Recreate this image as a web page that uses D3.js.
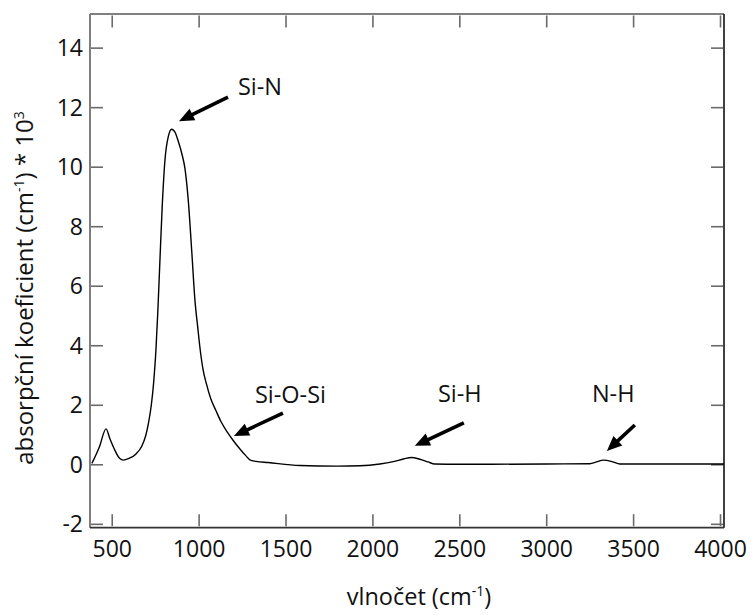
<!DOCTYPE html>
<html>
<head>
<meta charset="utf-8">
<script src="https://cdn.jsdelivr.net/npm/d3@7"></script>
<style>
  html, body { margin: 0; padding: 0; background: #fff; }
  svg text { font-family: "Open Sans", "Noto Sans", sans-serif; fill: #111; }
</style>
</head>
<body>
<svg id="chart" width="755" height="615"></svg>
<script>
// ---- data ----
const wavenumber = [386, 430, 467, 490, 520, 545, 567, 600, 640, 672, 695, 712, 728, 742, 754, 765, 777, 790, 806, 825, 845, 865, 883, 905, 921, 940, 960, 979, 995, 1008, 1025, 1045, 1070, 1100, 1130, 1165, 1199, 1240, 1270, 1295, 1330, 1400, 1583, 1800, 1928, 2043, 2120, 2180, 2225, 2273, 2320, 2359, 2500, 3000, 3251, 3290, 3328, 3380, 3424, 3600, 4023];
const absorbance = [0.03, 0.6, 1.19, 0.85, 0.45, 0.2, 0.14, 0.2, 0.35, 0.6, 0.95, 1.4, 2.0, 2.8, 3.8, 5.1, 6.8, 8.6, 10.2, 11.0, 11.26, 11.15, 10.85, 10.4, 9.95, 8.9, 7.2, 5.5, 4.6, 3.9, 3.2, 2.7, 2.2, 1.8, 1.42, 1.08, 0.8, 0.5, 0.3, 0.15, 0.1, 0.06, -0.04, -0.06, -0.05, 0.01, 0.09, 0.18, 0.23, 0.17, 0.08, 0.01, 0.0, 0.01, 0.02, 0.08, 0.14, 0.09, 0.01, 0.01, 0.01];

const xTicks = [500, 1000, 1500, 2000, 2500, 3000, 3500, 4000];
const yTicks = [-2, 0, 2, 4, 6, 8, 10, 12, 14];

const annLabels = ["Si-N", "Si-O-Si", "Si-H", "N-H"];
const annTextX = [1226, 1324, 2377, 3263];
const annTextY = [12.4, 2.07, 2.09, 2.09];
const arrowFromX = [1169, 1485, 2526, 3510];
const arrowFromY = [12.34, 1.72, 1.39, 1.32];
const arrowToX = [887, 1203, 2244, 3349];
const arrowToY = [11.53, 0.95, 0.62, 0.45];

const xTitle = "vlnočet (cm";
const yTitle = "absorpční koeficient (cm";

// ---- layout ----
const L = 90, R = 724, T = 14, B = 527.7;
const svg = d3.select("#chart");

const x = d3.scaleLinear().domain([375, 4023]).range([L, R]);
const y = d3.scaleLinear().domain([-2.13, 15.13]).range([B, T]);

const tickColor = "#6a6a6a";
const fontSize = 23;
const fmt = d => String(d);

// bottom axis (ticks inside)
const gx = svg.append("g").attr("transform", `translate(0,${B - 1.5})`)
  .call(d3.axisBottom(x).tickValues(xTicks).tickSizeInner(-12).tickSizeOuter(0).tickFormat(fmt));
gx.select(".domain").remove();
gx.selectAll(".tick line").attr("stroke", tickColor).attr("stroke-width", 1.6);
gx.selectAll(".tick text").attr("y", 30.5).attr("dy", 0).style("font-size", fontSize + "px").style("font-family", '"Open Sans", sans-serif').attr("fill", "#111");

// top axis (ticks only)
const gxt = svg.append("g").attr("transform", `translate(0,${T + 1.5})`)
  .call(d3.axisTop(x).tickValues(xTicks).tickSizeInner(-12).tickSizeOuter(0).tickFormat(""));
gxt.select(".domain").remove();
gxt.selectAll(".tick line").attr("stroke", tickColor).attr("stroke-width", 1.6);

// left axis
const gy = svg.append("g").attr("transform", `translate(${L + 1},0)`)
  .call(d3.axisLeft(y).tickValues(yTicks).tickSizeInner(-12).tickSizeOuter(0).tickFormat(fmt));
gy.select(".domain").remove();
gy.selectAll(".tick line").attr("stroke", tickColor).attr("stroke-width", 1.6);
gy.selectAll(".tick text").attr("x", -8).attr("dy", "0.35em").style("font-size", fontSize + "px").style("font-family", '"Open Sans", sans-serif').attr("fill", "#111");

// right axis (ticks only)
const gyr = svg.append("g").attr("transform", `translate(${R - 1},0)`)
  .call(d3.axisRight(y).tickValues(yTicks).tickSizeInner(-12).tickSizeOuter(0).tickFormat(""));
gyr.select(".domain").remove();
gyr.selectAll(".tick line").attr("stroke", tickColor).attr("stroke-width", 1.6);

// frame
svg.append("line").attr("x1", L).attr("x2", L).attr("y1", T).attr("y2", B).attr("stroke", "#707070").attr("stroke-width", 1.8);
svg.append("line").attr("x1", L).attr("x2", R).attr("y1", T).attr("y2", T).attr("stroke", "#808080").attr("stroke-width", 1.8);
svg.append("line").attr("x1", R).attr("x2", R).attr("y1", T).attr("y2", B).attr("stroke", "#111").attr("stroke-width", 1.6);
svg.append("line").attr("x1", L).attr("x2", R).attr("y1", B).attr("y2", B).attr("stroke", "#333").attr("stroke-width", 1.8);

// curve
const pts = wavenumber.map((w, i) => [w, absorbance[i]]);
const line = d3.line().x(d => x(d[0])).y(d => y(d[1])).curve(d3.curveMonotoneX);
svg.append("path").datum(pts).attr("d", line)
  .attr("fill", "none").attr("stroke", "#000").attr("stroke-width", 1.4);

// annotations
annLabels.forEach((lab, i) => {
  svg.append("text").attr("x", x(annTextX[i])).attr("y", y(annTextY[i]))
    .style("font-size", "23.5px").text(lab);
  const x0 = x(arrowFromX[i]), y0 = y(arrowFromY[i]);
  const x1 = x(arrowToX[i]), y1 = y(arrowToY[i]);
  const ang = Math.atan2(y1 - y0, x1 - x0);
  const hl = 15, hw = 6.5;
  const bx = x1 - hl * Math.cos(ang), by = y1 - hl * Math.sin(ang);
  svg.append("line").attr("x1", x0).attr("y1", y0).attr("x2", bx + 2 * Math.cos(ang)).attr("y2", by + 2 * Math.sin(ang))
    .attr("stroke", "#000").attr("stroke-width", 3.6);
  const px = -Math.sin(ang), py = Math.cos(ang);
  svg.append("path")
    .attr("d", `M${x1},${y1}L${bx + hw * px},${by + hw * py}L${bx - hw * px},${by - hw * py}Z`)
    .attr("fill", "#000");
});

// axis titles (superscripts shifted by explicit pixel offsets)
const sup = 9;
const xt = svg.append("text").attr("x", 419).attr("y", 605).attr("text-anchor", "middle").style("font-size", "23.5px");
xt.append("tspan").text(xTitle);
xt.append("tspan").attr("dy", -sup).style("font-size", "14px").text("-1");
xt.append("tspan").attr("dy", sup).text(")");

const yt = svg.append("text").attr("transform", "translate(33,288) rotate(-90)").attr("text-anchor", "middle").style("font-size", "24px");
yt.append("tspan").text(yTitle);
yt.append("tspan").attr("dy", -sup).style("font-size", "14px").text("-1");
yt.append("tspan").attr("dy", sup).text(") * 10");
yt.append("tspan").attr("dy", -sup).style("font-size", "14px").text("3");
</script>
</body>
</html>
